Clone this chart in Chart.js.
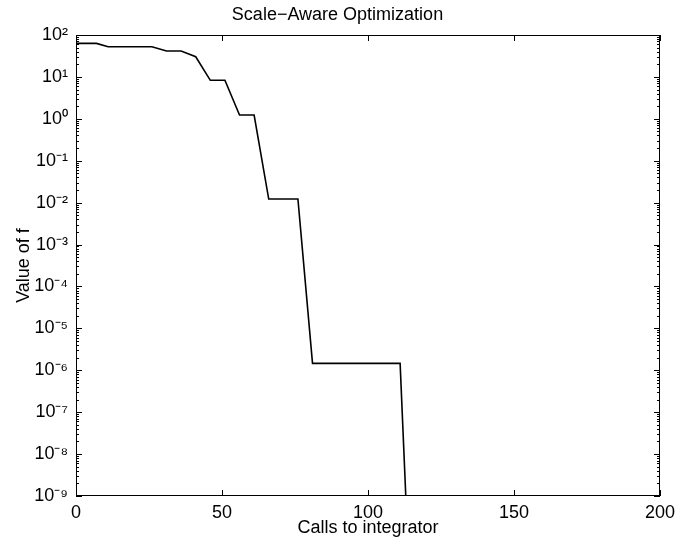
<!DOCTYPE html>
<html>
<head>
<meta charset="utf-8">
<script src="https://cdn.jsdelivr.net/npm/chart.js@4"></script>
<style>
  body { margin: 0; background: #fff; }
  #wrap { width: 675px; height: 541px; }
</style>
</head>
<body>
<div id="wrap"><canvas id="opt-graph" width="675" height="541"></canvas></div>
<script>
// values
const calls = [0, 7, 11, 26, 31, 36, 41, 46, 51, 56, 61, 66, 76, 81, 111, 116];
const fValues = [63, 63, 52.6, 52.6, 41.5, 41.5, 30.3, 8.3, 8.3, 1.23, 1.23, 0.0122, 0.0122, 1.46e-6, 1.46e-6, 1e-14];
const yDecades = [1e-9, 1e-8, 1e-7, 1e-6, 1e-5, 1e-4, 1e-3, 1e-2, 1e-1, 1e0, 1e1, 1e2];
const xTicks = [0, 50, 100, 150, 200];
const minorSteps = [2, 3, 4, 5, 6, 7, 8, 9];

const sup = {'-': '\u207B', '0': '\u2070', '1': '\u00B9', '2': '\u00B2', '3': '\u00B3',
  '4': '\u2074', '5': '\u2075', '6': '\u2076', '7': '\u2077', '8': '\u2078', '9': '\u2079'};

function powLabel(value) {
    const e = String(Math.round(Math.log10(value)));
    return '10' + e.split('').map(c => sup[c]).join('');
}

// matlab style box with inward ticks on all sides
const frameTicks = {
    id: 'frameTicks',
    afterDraw(chart) {
        const {ctx, chartArea: a, scales: {x, y}} = chart;
        ctx.save();
        ctx.strokeStyle = '#000';
        ctx.lineWidth = 1;
        ctx.beginPath();
        xTicks.forEach(v => {
            const px = Math.round(x.getPixelForValue(v)) + 0.5;
            ctx.moveTo(px, a.bottom); ctx.lineTo(px, a.bottom - 6);
            ctx.moveTo(px, a.top); ctx.lineTo(px, a.top + 6);
        });
        yDecades.forEach(d => {
            const py = Math.round(y.getPixelForValue(d)) + 0.5;
            ctx.moveTo(a.left, py); ctx.lineTo(a.left + 6, py);
            ctx.moveTo(a.right, py); ctx.lineTo(a.right - 6, py);
            if (d >= 100) return;
            minorSteps.forEach(m => {
                const my = Math.round(y.getPixelForValue(d * m)) + 0.5;
                ctx.moveTo(a.left, my); ctx.lineTo(a.left + 3, my);
                ctx.moveTo(a.right, my); ctx.lineTo(a.right - 3, my);
            });
        });
        ctx.stroke();
        ctx.strokeRect(a.left + 0.5, a.top + 0.5, a.width - 1, a.height - 1);
        ctx.restore();
    }
};

Chart.defaults.font.family = '"Liberation Sans", Arial, sans-serif';
Chart.defaults.font.size = 18;
Chart.defaults.color = '#000';

new Chart(document.getElementById('opt-graph'), {
    type: 'line',
    data: {
        datasets: [{
            data: calls.map((c, i) => ({x: c, y: fValues[i]})),
            borderColor: '#000',
            borderWidth: 1.6,
            pointRadius: 0,
            tension: 0,
            fill: false
        }]
    },
    options: {
        responsive: false,
        animation: false,
        layout: {padding: 0},
        plugins: {
            legend: {display: false},
            tooltip: {enabled: false},
            title: {
                display: true,
                text: 'Scale\u2212Aware Optimization',
                font: {size: 18, weight: 'normal'},
                color: '#000',
                padding: {top: 4, bottom: 9.4}
            }
        },
        scales: {
            x: {
                type: 'linear',
                min: 0,
                max: 200,
                afterBuildTicks: s => { s.ticks = xTicks.map(v => ({value: v})); },
                afterFit: s => { s.height = 45; s.paddingRight = 15; s.paddingLeft = 0; },
                grid: {display: false, drawTicks: false},
                border: {display: false},
                ticks: {padding: 6, maxRotation: 0},
                title: {display: true, text: 'Calls to integrator', padding: {top: 0, bottom: 2}}
            },
            y: {
                type: 'logarithmic',
                min: 1e-9,
                max: 100,
                afterBuildTicks: s => { s.ticks = yDecades.map(v => ({value: v})); },
                afterFit: s => { s.width = 76; },
                grid: {display: false, drawTicks: false},
                border: {display: false},
                ticks: {padding: 8, callback: v => powLabel(v)},
                title: {display: true, text: 'Value of f', padding: {top: 13, bottom: 0}}
            }
        }
    },
    plugins: [frameTicks]
});
</script>
</body>
</html>
